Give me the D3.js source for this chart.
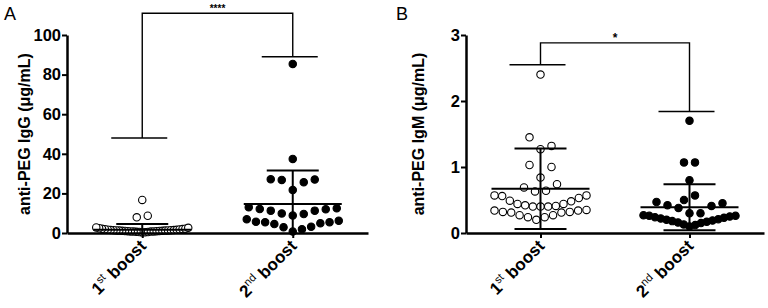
<!DOCTYPE html>
<html><head><meta charset="utf-8">
<script src="https://cdn.jsdelivr.net/npm/d3@7"></script>
<style>body{margin:0;background:#fff}svg{display:block}text{font-family:"Liberation Sans",Arial,sans-serif;fill:#000}</style>
</head><body><svg id="c" width="768" height="308"></svg>
<script>
const categories = ["1st boost", "2nd boost"];
const iggFirst = [0.3,0.4,0.5,0.5,0.6,0.7,0.7,0.8,0.8,0.9,0.9,1.0,1.0,1.1,1.1,1.2,1.2,1.3,1.3,1.4,1.4,1.5,1.5,1.6,1.7,1.8,1.9,2.0,2.1,2.2,2.4,2.6,2.8,7.9,8.7,16.7];
const iggSecond = [85.4,37.4,27.1,27.0,26.8,25.6,21.7,13.0,12.5,12.1,12.0,11.3,11.3,9.9,9.6,8.8,6.9,6.2,5.7,5.4,5.4,4.9,4.5,3.2,2.9,1.9,0.7];
const igmFirst = [2.40,1.45,1.32,1.27,1.03,1.00,0.84,0.74,0.69,0.64,0.63,0.57,0.57,0.56,0.53,0.49,0.48,0.44,0.44,0.42,0.41,0.40,0.40,0.40,0.35,0.34,0.34,0.32,0.32,0.31,0.31,0.27,0.27,0.24,0.24,0.20];
const igmSecond = [1.70,1.07,1.07,0.80,0.57,0.50,0.47,0.45,0.42,0.41,0.38,0.30,0.30,0.27,0.26,0.26,0.25,0.24,0.23,0.22,0.21,0.20,0.19,0.18,0.17,0.16,0.15,0.13,0.12,0.10];
const iggMean = [1.6, 14.6];
const iggSD = [2.9, 17.0];
const igmMean = [0.67, 0.39];
const igmSD = [0.61, 0.35];
const iggTicks = [0, 20, 40, 60, 80, 100];
const igmTicks = [0, 1, 2, 3];
const iggBracket = [111, 48, 89];   // top, left leg end, right leg end
const igmBracket = [2.88, 2.55, 1.84];

const svg = d3.select("#c");

function swarm(vals, y, cx, BIN, SP, MAXW) {
  const sorted = vals.slice().sort((a, b) => a - b);
  const rows = []; let cur = null;
  sorted.forEach(v => {
    const py = y(v);
    if (!cur || cur.y0 - py >= BIN) { cur = {y0: py, items: []}; rows.push(cur); }
    cur.items.push(v);
  });
  const out = [];
  rows.forEach(r => {
    const n = r.items.length;
    const sp = n > 1 ? Math.min(SP, MAXW / (n - 1)) : 0;
    r.items.forEach((v, i) => {
      let k;
      if (n % 2) k = i === 0 ? 0 : (i % 2 ? (i + 1) / 2 : -i / 2);
      else k = (i % 2 ? 1 : -1) * (Math.floor(i / 2) + 0.5);
      out.push({x: cx + k * sp, y: y(v)});
    });
  });
  return out;
}

function panel(o) {
  const g = svg.append("g");
  const x = d3.scalePoint().domain(categories).range([o.x0, o.x1]).padding(0.5);
  const y = d3.scaleLinear().domain([0, o.max]).range([233, 35]);

  o.series.forEach((vals, i) => {
    const pts = swarm(vals, y, x(categories[i]), 13, 11, 92);
    g.append("g").selectAll("circle").data(pts).enter().append("circle")
      .attr("cx", d => d.x).attr("cy", d => d.y).attr("r", 3.7)
      .attr("fill", i === 0 ? "#fff" : "#000")
      .attr("stroke", "#000").attr("stroke-width", 1.1);
  });

  categories.forEach((c, i) => {
    const cx = x(c), m = o.mean[i], s = o.sd[i];
    const lo = Math.max(0, m - s), hi = m + s;
    const eg = g.append("g").attr("stroke", "#000").attr("stroke-width", 2);
    eg.append("line").attr("x1", cx - 49).attr("x2", cx + 49).attr("y1", y(m)).attr("y2", y(m));
    eg.append("line").attr("x1", cx).attr("x2", cx).attr("y1", y(lo)).attr("y2", y(hi));
    eg.append("line").attr("x1", cx - 26).attr("x2", cx + 26).attr("y1", y(hi)).attr("y2", y(hi));
    if (m - s > 0) eg.append("line").attr("x1", cx - 26).attr("x2", cx + 26).attr("y1", y(lo)).attr("y2", y(lo));
  });

  const xa = x(categories[0]), xb = x(categories[1]);
  const [top, l, r] = o.bracket;
  const bg = g.append("g").attr("stroke", "#000").attr("stroke-width", 1.4).attr("fill", "none");
  bg.append("path").attr("d", `M${xa},${y(l)}V${y(top)}H${xb}V${y(r)}`);
  bg.append("line").attr("x1", xa - 31).attr("x2", xa + 25).attr("y1", y(l)).attr("y2", y(l));
  bg.append("line").attr("x1", xb - 31).attr("x2", xb + 25).attr("y1", y(r)).attr("y2", y(r));
  g.append("text").attr("x", (xa + xb) / 2).attr("y", y(top) - 1).attr("text-anchor", "middle")
    .attr("font-size", o.starSize).attr("font-weight", "bold").text(o.star);

  const ya = g.append("g").attr("transform", `translate(${o.x0},0)`)
    .call(d3.axisLeft(y).tickValues(o.ticks).tickFormat(d3.format("d")).tickSize(5).tickPadding(1).tickSizeOuter(0));
  ya.select(".domain").attr("stroke-width", 2.5);
  ya.selectAll(".tick line").attr("stroke-width", 2);
  ya.selectAll(".tick text").attr("font-size", 16.5).attr("font-weight", "bold")
    .style("font-family", '"Liberation Sans",Arial,sans-serif');
  const xa2 = g.append("g").attr("transform", "translate(0,233)")
    .call(d3.axisBottom(x).tickSize(5).tickFormat("").tickSizeOuter(0));
  xa2.select(".domain").attr("stroke-width", 2.5);
  xa2.selectAll(".tick line").attr("stroke-width", 2);

  categories.forEach(c => {
    const mt = c.match(/^(\d)(\D+?)( .*)$/);
    const lg = g.append("g").attr("transform", `translate(${x(c) + 5},247) rotate(-45)`);
    const t = lg.append("text").attr("x", 0).attr("y", 0)
      .attr("text-anchor", "end").attr("font-size", 17).attr("font-weight", "bold");
    t.append("tspan").text(mt[1]);
    t.append("tspan").attr("font-size", 11).attr("font-weight", "normal").attr("dy", -7).text(mt[2]);
    t.append("tspan").attr("dy", 7).text(mt[3]);
  });

  g.append("text").attr("transform", `translate(${o.x0 - o.titleOff},134) rotate(-90)`)
    .attr("text-anchor", "middle").attr("font-size", 16).attr("font-weight", "bold").text(o.title);

  g.append("text").attr("x", o.letterX).attr("y", 20).attr("font-size", 18).text(o.letter);
}

panel({x0: 67, x1: 368, max: 100, series: [iggFirst, iggSecond], mean: iggMean, sd: iggSD,
  ticks: iggTicks, bracket: iggBracket, star: "****", starSize: 10, titleOff: 37,
  title: "anti-PEG IgG (\u03bcg/mL)", letter: "A", letterX: 4});
panel({x0: 466, x1: 764, max: 3, series: [igmFirst, igmSecond], mean: igmMean, sd: igmSD,
  ticks: igmTicks, bracket: igmBracket, star: "*", starSize: 12, titleOff: 42,
  title: "anti-PEG IgM (\u03bcg/mL)", letter: "B", letterX: 396});
</script></body></html>
